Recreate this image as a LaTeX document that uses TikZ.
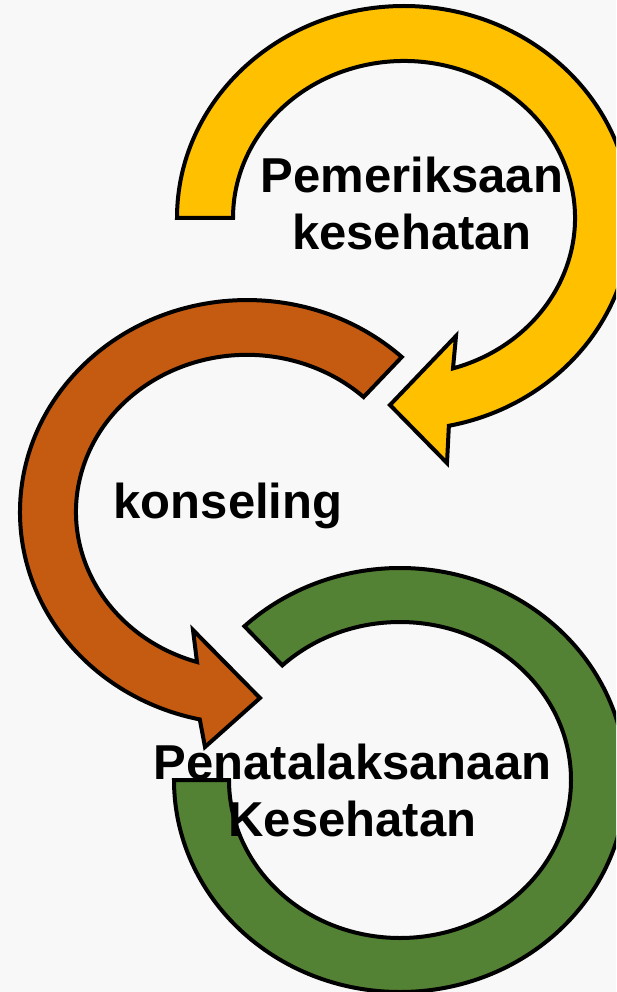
\documentclass[tikz,border=0pt]{standalone}
\usepackage{fontspec}
\setmainfont{Liberation Sans}
\definecolor{bg_gray}{RGB}{249,248,248}
\definecolor{ring_yellow}{RGB}{255,192,0}
\definecolor{ring_orange}{RGB}{197,90,17}
\definecolor{ring_green}{RGB}{84,130,53}

\begin{document}
\begin{tikzpicture}
    [
        x=1pt, y=-1pt,
        ring/.style={draw=black, line width=4pt, line join=miter},
        label_text/.style={font=\fontsize{49}{57}\selectfont\bfseries, align=center, anchor=base, inner sep=0pt},
    ]

  \fill[bg_gray] (0,0) rectangle (616,992);
  \useasboundingbox (0,0) rectangle (616,992);
  \clip (0,0) rectangle (616,992);

  \draw[ring, fill=ring_yellow] (177,218) arc[start angle=180, end angle=438.6, x radius=227, y radius=212]
      -- (447,463) -- (390,405) -- (456,336) -- (453,368.4)
      arc[start angle=433.35, end angle=180, x radius=171, y radius=157] -- cycle;
  \draw[ring, fill=ring_orange] (401.8,357) arc[start angle=-47, end angle=-258, x radius=227, y radius=212]
      -- (205,747) -- (260,698) -- (193,630) -- (197,662)
      arc[start angle=-253, end angle=-47, x radius=171, y radius=157] -- cycle;
  \draw[ring, fill=ring_green] (174,780) arc[start angle=180, end angle=-133.5, x radius=226, y radius=212]
      -- (282.3,665.4)
      arc[start angle=-133.5, end angle=180, x radius=171, y radius=158] -- cycle;

  \node[label_text] (pemeriksaan) at (412,250) {Pemeriksaan\\kesehatan};
  \node[label_text] (konseling) at (228,518) {konseling};
  \node[label_text] (penatalaksanaan) at (352.5,836) {Penatalaksanaan\\Kesehatan};
\end{tikzpicture}
\end{document}
